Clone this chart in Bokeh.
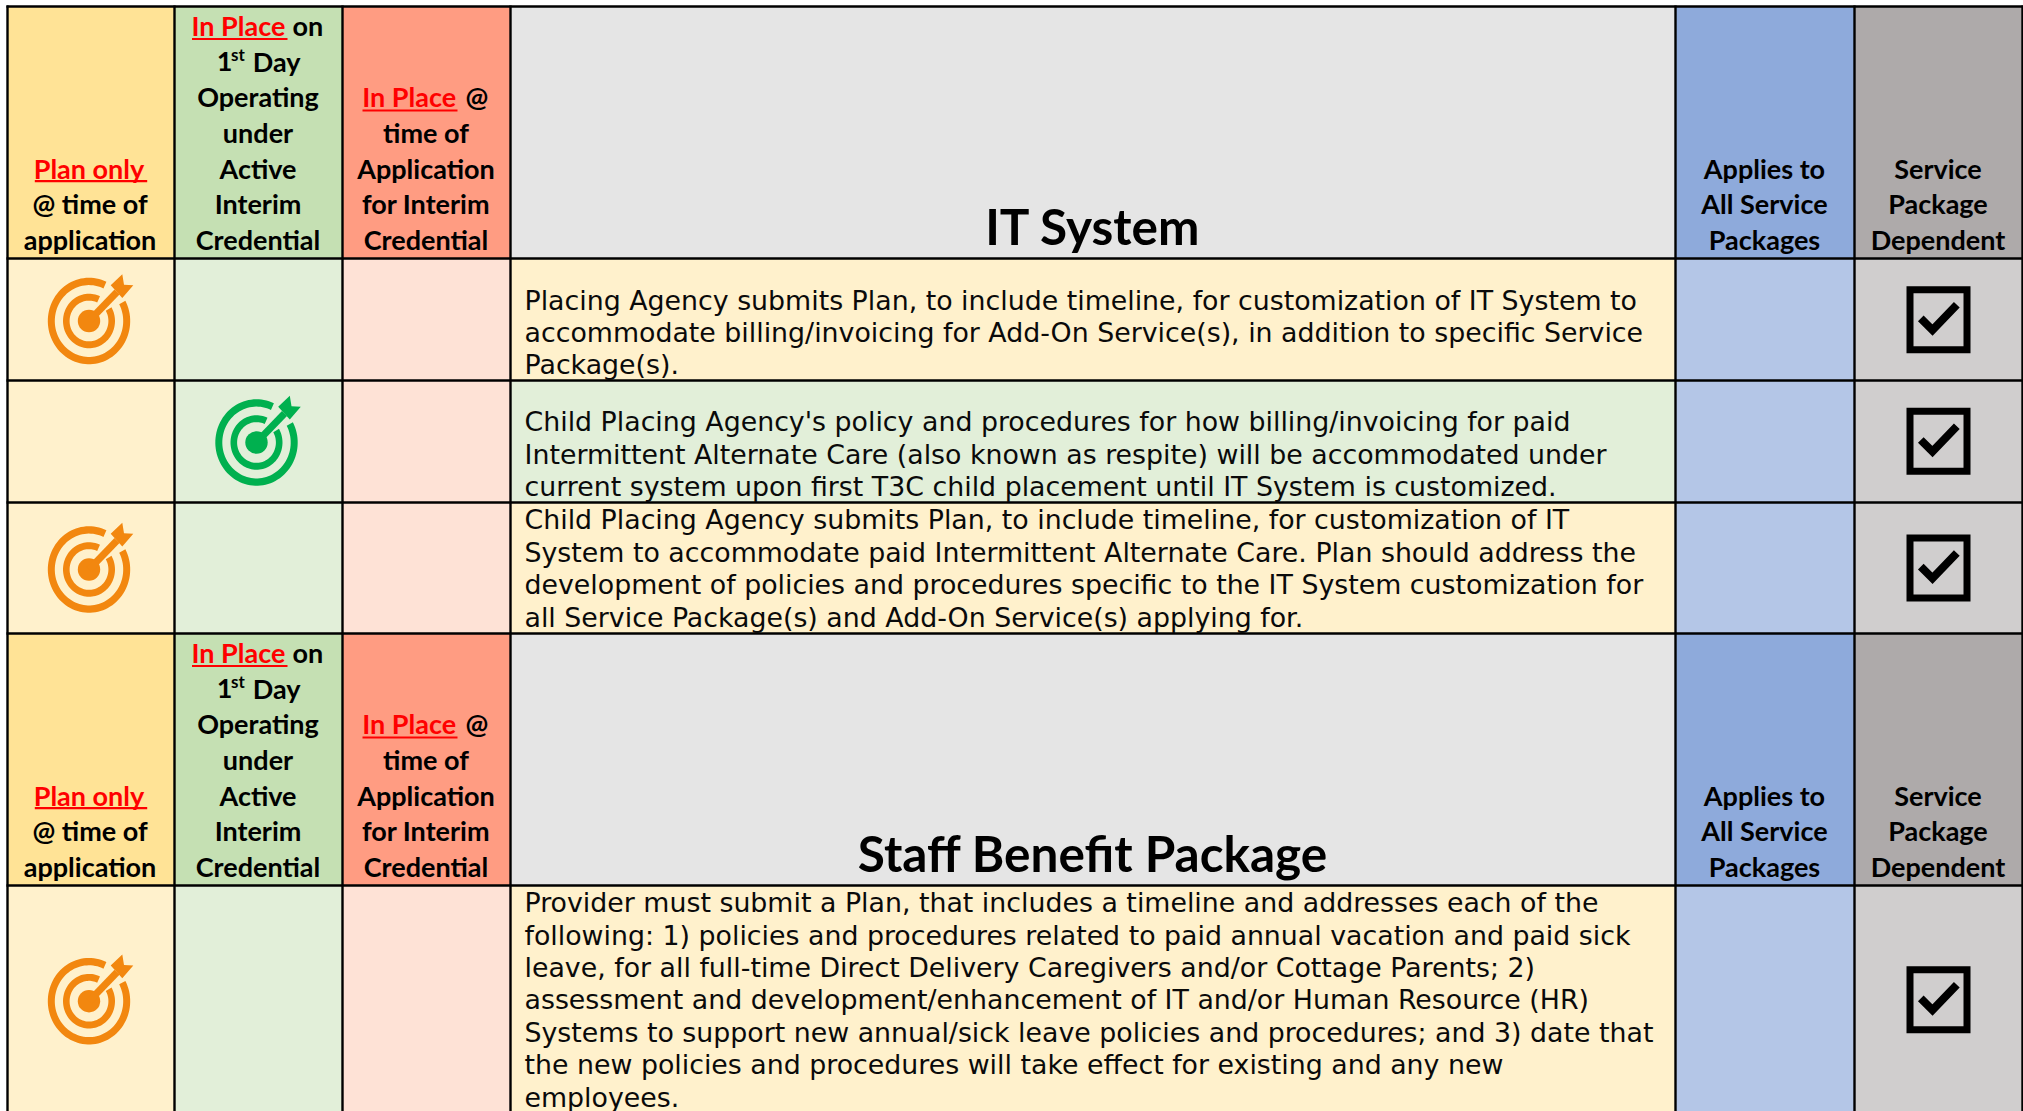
import numpy as np
from bokeh.core.properties import value
from bokeh.embed import file_html
from bokeh.models import Range1d
from bokeh.plotting import figure
from bokeh.resources import INLINE

# ---- content ----
SECTION_TITLES = ["IT System", "Staff Benefit Package"]
COL_APPLIES = ["Applies to", "All Service", "Packages"]
COL_DEPENDENT = ["Service", "Package", "Dependent"]
COL_PLAN_TAIL = ["@ time of", "application"]
COL_FIRST_DAY_TAIL = ["Operating", "under", "Active", "Interim", "Credential"]
COL_APPLICATION_TAIL = ["time of", "Application", "for Interim", "Credential"]

ROW_KINDS = ["plan", "first_day", "plan", "plan"]
ROW_TEXTS = [
    ["Placing Agency submits Plan, to include timeline, for customization of IT System to",
     "accommodate billing/invoicing for Add-On Service(s), in addition to specific Service",
     "Package(s)."],
    ["Child Placing Agency's policy and procedures for how billing/invoicing for paid",
     "Intermittent Alternate Care (also known as respite) will be accommodated under",
     "current system upon first T3C child placement until IT System is customized."],
    ["Child Placing Agency submits Plan, to include timeline, for customization of IT",
     "System to accommodate paid Intermittent Alternate Care. Plan should address the",
     "development of policies and procedures specific to the IT System customization for",
     "all Service Package(s) and Add-On Service(s) applying for."],
    ["Provider must submit a Plan, that includes a timeline and addresses each of the",
     "following: 1) policies and procedures related to paid annual vacation and paid sick",
     "leave, for all full-time Direct Delivery Caregivers and/or Cottage Parents; 2)",
     "assessment and development/enhancement of IT and/or Human Resource (HR)",
     "Systems to support new annual/sick leave policies and procedures; and 3) date that",
     "the new policies and procedures will take effect for existing and any new",
     "employees."],
]

# ---- layout (page pixels) ----
W, H = 2023, 1111
COLS = [7, 174, 342, 510, 1675, 1854, 2022]
HEAD_ROWS = [(6, 258), (633, 885)]
BODY_ROWS = [(258, 380), (380, 502), (502, 633), (885, 1111)]
HEAD_SHIFT = [0, 627]
FIRST_BASE = [308.7, 430.3, 528.3, 911.2]
BODY_STEP = 32.45
BODY_X = 524
ICON_Y = [320.5, 442, 569, 1000.7]
CHECK_Y = [319.2, 440.8, 567.5, 999.2]
TITLE_BASE = 242.7
HEAD_FILL = ["#FFE396", "#C5E0B3", "#FF9C82", "#E5E5E5", "#8EAADB", "#AEAAAA"]
BODY_FILL = ["#FFF1CC", "#E2EFD9", "#FEE2D6", "#FFF1CC", "#B4C6E7", "#D0CECE"]
DESC_FILL = {"plan": "#FFF1CC", "first_day": "#E2EFD9"}
ICON_COL = {"plan": ("#F2870F", 88.5), "first_day": ("#00B04F", 256)}
HFONT, BFONT = "Lato", "DejaVu Sans"
HSIZE, BSIZE, TSIZE = 27, 26.8, 49.5
BASE_FIX = 0.34

p = figure(width=W, height=H, x_range=Range1d(0, W), y_range=Range1d(H, 0),
           output_backend="svg", toolbar_location=None, min_border=0,
           margin=(0, 0, 0, 0), background_fill_color="white",
           border_fill_color="white", outline_line_color=None)
p.xaxis.visible = False
p.yaxis.visible = False
p.grid.visible = False


def txt(x, y, s, color="black", align="left", size=HSIZE, font=HFONT, style="bold"):
    p.text([x], [y - BASE_FIX * size], text=[s], text_color=color, text_align=align,
           text_baseline="alphabetic", text_font=value(font),
           text_font_size=f"{size}px", text_font_style=style)


# cells
for (t, b) in HEAD_ROWS:
    p.quad(left=COLS[:-1], right=COLS[1:], top=[t] * 6, bottom=[b] * 6,
           fill_color=HEAD_FILL, line_color=None)
for (t, b), kind in zip(BODY_ROWS, ROW_KINDS):
    fills = list(BODY_FILL)
    fills[3] = DESC_FILL[kind]
    p.quad(left=COLS[:-1], right=COLS[1:], top=[t] * 6, bottom=[min(b, H)] * 6,
           fill_color=fills, line_color=None)

# grid lines
hs = sorted({y for r in HEAD_ROWS + BODY_ROWS for y in r if y < H})
p.segment(x0=[COLS[0] - 1] * len(hs), x1=[COLS[-1] + 1] * len(hs), y0=hs, y1=hs,
          line_color="black", line_width=2.4)
p.segment(x0=COLS, x1=COLS, y0=[5] * len(COLS), y1=[H] * len(COLS),
          line_color="black", line_width=2.4)

# headers
for shift, title, tx in zip(HEAD_SHIFT, SECTION_TITLES, (1092.5, 1092.5)):
    txt(tx, TITLE_BASE + shift, title, align="center", size=TSIZE)
    txt(88.5, 177 + shift, "Plan only", color="#FF0000", align="center")
    p.segment([34.3], [180.7 + shift], [146.7], [180.7 + shift], line_color="#FF0000", line_width=2.2)
    for y, s in zip((212.6, 248.3), COL_PLAN_TAIL):
        txt(89.5, y + shift, s, align="center")
    txt(191, 34.3 + shift, "In Place", color="#FF0000")
    txt(292, 34.3 + shift, "on")
    p.segment([191.5], [38.5 + shift], [287], [38.5 + shift], line_color="#FF0000", line_width=2.2)
    txt(216.3, 70 + shift, "1")
    txt(230.5, 60 + shift, "st", size=17)
    txt(252.3, 70 + shift, "Day")
    for y, s in zip((105.3, 141, 176.7, 212.6, 248.3), COL_FIRST_DAY_TAIL):
        txt(257.5, y + shift, s, align="center")
    txt(361.7, 105.5 + shift, "In Place", color="#FF0000")
    txt(465, 105.5 + shift, "@")
    p.segment([362], [110 + shift], [457], [110 + shift], line_color="#FF0000", line_width=2.2)
    for y, s in zip((141, 176.7, 212.6, 248.3), COL_APPLICATION_TAIL):
        txt(425.5, y + shift, s, align="center")
    for y, a, d in zip((176.7, 212.6, 248.3), COL_APPLIES, COL_DEPENDENT):
        txt(1764, y + shift, a, align="center")
        txt(1937.5, y + shift, d, align="center")

# description text
for first, lines in zip(FIRST_BASE, ROW_TEXTS):
    for i, s in enumerate(lines):
        txt(BODY_X, first + i * BODY_STEP, s, size=BSIZE, font=BFONT, style="normal",
            color="#0A0A0A")


def ring(cx, cy, ro, ri, a0, a1, sx=1.0, sy=1.05):
    t = np.radians(np.linspace(a0, a1, 90))
    xs = np.r_[ro * np.cos(t), ri * np.cos(t[::-1])] * sx + cx
    ys = cy - np.r_[ro * np.sin(t), ri * np.sin(t[::-1])] * sy
    return xs.tolist(), ys.tolist()


def target(cx, cy, color):
    rings = [ring(cx, cy, 41.2, 34.2, 65, 388), ring(cx, cy, 26, 19.4, 65, 390)]
    p.patches([r[0] for r in rings], [r[1] for r in rings], fill_color=color, line_color=None)
    p.ellipse([cx], [cy], width=22.4, height=22.4, fill_color=color, line_color=None)
    p.segment([cx], [cy], [cx + 28], [cy - 29], line_color=color, line_width=7)
    hx = np.array([21.7, 33.3, 35, 44.3, 33.3]) + cx
    hy = np.array([-35.7, -46.7, -36.3, -35.7, -23]) + cy
    p.patch(hx.tolist(), hy.tolist(), fill_color=color, line_color=None)


def check(cy, cx=1938):
    p.quad([cx - 28.5], [cx + 28.5], [cy - 30], [cy + 30], fill_color=None,
           line_color="black", line_width=7, line_join="miter")
    tx = np.array([-17.7, -6, 18.3]) + cx
    ty = np.array([-1.3, 10.3, -15]) + cy
    p.line(tx.tolist(), ty.tolist(), line_color="black", line_width=8, line_join="miter")


for kind, iy, cy in zip(ROW_KINDS, ICON_Y, CHECK_Y):
    color, ix = ICON_COL[kind]
    target(ix, iy, color)
    check(cy)

open("out.html", "w").write(file_html(p, INLINE))
